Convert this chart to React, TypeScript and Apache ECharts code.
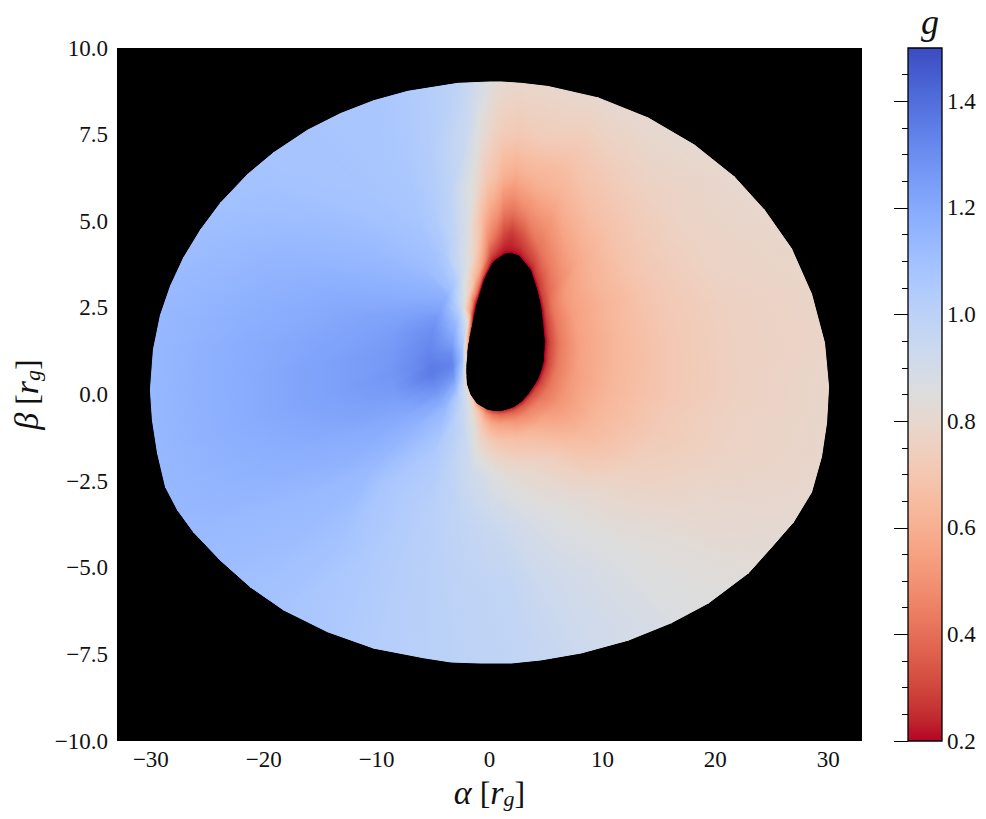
import React, { useEffect, useRef } from "react";
import * as echarts from "echarts";

// Image-plane extent and tick labels
const alphaTicks = [-30, -20, -10, 0, 10, 20, 30];
const betaTicks = [-10, -7.5, -5, -2.5, 0, 2.5, 5, 7.5, 10];
const gMajorTicks = [0.2, 0.4, 0.6, 0.8, 1.0, 1.2, 1.4];
const gMinorTicks = [0.25, 0.3, 0.35, 0.45, 0.5, 0.55, 0.65, 0.7, 0.75, 0.85, 0.9, 0.95, 1.05, 1.1, 1.15, 1.25, 1.3, 1.35, 1.45];
const gRange = [0.2, 1.5];

// Inner shadow outline and outer disc outline (alpha, beta), paired along rays
const holeAlpha = [4.97,4.94,4.92,4.88,4.88,4.78,4.65,4.38,4.02,3.54,2.87,2.15,1.57,0.94,0.33,-0.22,-1.13,-1.73,-2.05,-2.10,-2.11,-2.06,-2.02,-2.02,-1.98,-1.94,-1.86,-1.82,-1.75,-1.69,-1.62,-1.56,-1.48,-1.39,-1.30,-1.20,-0.99,-0.77,-0.51,0.24,0.61,1.05,1.34,1.90,2.66,3.71,4.22,4.51,4.68,4.74,4.81,4.85,4.91];
const holeBeta = [1.53,1.41,1.28,1.14,0.99,0.85,0.70,0.46,0.27,0.03,-0.22,-0.38,-0.45,-0.50,-0.49,-0.45,-0.28,-0.01,0.30,0.57,0.79,0.99,1.11,1.21,1.34,1.45,1.55,1.67,1.77,1.87,1.97,2.07,2.20,2.33,2.48,2.63,2.83,3.07,3.34,3.82,3.92,4.02,4.08,4.11,4.02,3.60,3.10,2.73,2.44,2.23,2.05,1.87,1.69];
const edgeAlpha = [30.04,29.86,29.41,28.53,26.93,24.98,22.94,19.39,16.10,12.29,8.12,4.57,1.91,-0.75,-3.42,-5.81,-10.25,-14.33,-18.23,-21.16,-23.82,-26.22,-27.64,-28.70,-29.41,-29.86,-30.04,-29.77,-29.15,-28.26,-27.11,-25.60,-23.82,-21.43,-19.12,-16.10,-13.18,-10.25,-7.23,-2.80,-1.38,0.13,1.02,2.80,5.19,9.63,14.06,18.15,21.69,24.36,26.75,28.53,29.68];
const edgeBeta = [0.22,-0.82,-1.80,-2.82,-3.68,-4.41,-5.15,-6.02,-6.59,-7.09,-7.46,-7.66,-7.75,-7.75,-7.72,-7.60,-7.32,-6.85,-6.22,-5.56,-4.79,-3.97,-3.33,-2.67,-1.69,-0.74,0.13,1.30,2.29,3.13,3.94,4.75,5.53,6.35,6.98,7.63,8.11,8.48,8.75,8.98,9.00,9.02,9.02,8.98,8.89,8.56,7.98,7.20,6.28,5.32,4.21,2.90,1.49];

// Where each g reading sits between the inner and outer outline
const ringFractions = [0, 0.015, 0.05, 0.12, 0.25, 0.45, 0.7, 1];

// g: one row per ray, one column per ring
const gOnRays = [
  [.20,.30,.43,.55,.63,.71,.76,.79],
  [.20,.30,.43,.55,.63,.71,.76,.79],
  [.20,.30,.43,.55,.63,.71,.77,.79],
  [.20,.30,.43,.54,.63,.72,.77,.80],
  [.20,.30,.43,.54,.63,.72,.78,.81],
  [.20,.30,.43,.53,.63,.73,.79,.82],
  [.20,.30,.42,.52,.63,.74,.80,.83],
  [.20,.30,.42,.52,.64,.77,.83,.85],
  [.20,.31,.42,.54,.67,.80,.85,.87],
  [.21,.32,.45,.58,.73,.83,.88,.90],
  [.22,.34,.47,.63,.78,.86,.91,.93],
  [.23,.36,.50,.66,.80,.89,.94,.96],
  [.25,.38,.53,.68,.82,.92,.97,.98],
  [.27,.40,.55,.70,.85,.94,.98,.99],
  [.30,.43,.58,.74,.89,.96,.99,1.0],
  [.35,.50,.65,.79,.92,.98,1.0,1.01],
  [.55,.72,.85,.95,.99,1.01,1.02,1.03],
  [.78,.88,.95,1.02,1.05,1.04,1.05,1.06],
  [.80,.93,1.05,1.13,1.11,1.07,1.09,1.08],
  [.80,1.0,1.18,1.21,1.16,1.13,1.12,1.10],
  [.80,1.06,1.27,1.28,1.20,1.17,1.13,1.12],
  [.78,1.08,1.32,1.33,1.23,1.19,1.16,1.13],
  [.75,1.10,1.33,1.36,1.25,1.21,1.17,1.14],
  [.70,1.10,1.32,1.36,1.26,1.22,1.18,1.14],
  [.65,1.08,1.30,1.34,1.27,1.23,1.19,1.14],
  [.60,1.05,1.27,1.33,1.26,1.23,1.19,1.14],
  [.55,1.02,1.24,1.32,1.26,1.23,1.19,1.14],
  [.50,.99,1.21,1.31,1.25,1.22,1.19,1.14],
  [.45,.95,1.18,1.30,1.24,1.21,1.18,1.14],
  [.40,.92,1.15,1.28,1.23,1.20,1.17,1.13],
  [.35,.88,1.12,1.26,1.21,1.19,1.16,1.12],
  [.30,.82,1.07,1.23,1.19,1.17,1.15,1.11],
  [.25,.70,1.00,1.20,1.17,1.15,1.13,1.10],
  [.20,.52,.92,1.17,1.15,1.13,1.11,1.09],
  [.20,.50,.86,1.10,1.12,1.11,1.09,1.08],
  [.20,.42,.80,1.04,1.10,1.09,1.08,1.08],
  [.20,.42,.72,.93,1.05,1.07,1.07,1.07],
  [.20,.40,.62,.85,.98,1.04,1.06,1.07],
  [.20,.36,.58,.76,.90,.99,1.03,1.05],
  [.20,.26,.34,.48,.63,.81,.93,.99],
  [.20,.24,.31,.42,.55,.71,.83,.92],
  [.20,.23,.27,.36,.50,.66,.76,.85],
  [.20,.22,.25,.31,.44,.61,.73,.81],
  [.20,.22,.24,.28,.42,.58,.71,.79],
  [.20,.23,.27,.33,.47,.61,.73,.79],
  [.20,.25,.31,.41,.50,.62,.71,.80],
  [.20,.27,.34,.44,.55,.66,.74,.81],
  [.20,.29,.38,.47,.58,.68,.76,.81],
  [.20,.30,.42,.53,.61,.70,.77,.80],
  [.20,.30,.43,.54,.62,.71,.77,.80],
  [.20,.30,.43,.54,.62,.71,.77,.79],
  [.20,.30,.43,.55,.63,.71,.76,.78],
  [.20,.30,.43,.55,.63,.71,.76,.78],
];

// coolwarm, from the top of the colour bar (g = 1.5) to the bottom (g = 0.2)
const coolwarm = ["#3b4cc0","#445acc","#4d68d7","#5775e1","#6282ea","#6c8ef1","#779af7","#82a5fb","#8db0fe","#98b9ff","#a3c2ff","#aec9fd","#b8d0f9","#c2d5f4","#ccd9ee","#d5dbe6","#dddddd","#e5d8d1","#ecd3c5","#f1ccb9","#f5c4ad","#f7bba0","#f7b194","#f7a687","#f49a7b","#f18d6f","#ec7f63","#e57058","#de604d","#d55042","#cb3e38","#c0282f","#b40426"];

const colourOf = (g: number) =>
  echarts.color.lerp(Math.min(1, Math.max(0, (gRange[1] - g) / (gRange[1] - gRange[0]))), coolwarm) as string;

const meshNode = (j: number, k: number) => {
  const t = ringFractions[k];
  return [
    holeAlpha[j] + (edgeAlpha[j] - holeAlpha[j]) * t,
    holeBeta[j] + (edgeBeta[j] - holeBeta[j]) * t,
    gOnRays[j][k],
  ];
};

// Each triangle: three (alpha, beta) corners, then the g read at those corners
const triangle = (p: number[], q: number[], r: number[]) => [p[0], p[1], q[0], q[1], r[0], r[1], p[2], q[2], r[2]];
const meshTriangles: number[][] = [];
gOnRays.forEach((_row, j) => {
  const n = (j + 1) % gOnRays.length;
  for (let k = 0; k < ringFractions.length - 1; k++) {
    const a = meshNode(j, k);
    const b = meshNode(n, k);
    const c = meshNode(n, k + 1);
    const d = meshNode(j, k + 1);
    if (Math.abs(a[2] - c[2]) <= Math.abs(b[2] - d[2])) {
      meshTriangles.push(triangle(a, b, c), triangle(a, c, d));
    } else {
      meshTriangles.push(triangle(a, b, d), triangle(b, c, d));
    }
  }
});

// Paint for a triangle so that its three corners get exactly their own colour
const trianglePaint = (pts: number[][], vals: number[]) => {
  const [x0, y0] = pts[0];
  const ax = pts[1][0] - x0, ay = pts[1][1] - y0, av = vals[1] - vals[0];
  const bx = pts[2][0] - x0, by = pts[2][1] - y0, bv = vals[2] - vals[0];
  const det = ax * by - ay * bx;
  const lo = Math.min(...vals);
  const hi = Math.max(...vals);
  if (Math.abs(det) < 1e-6 || hi - lo < 1e-4) return colourOf((lo + hi) / 2);
  const dx = (av * by - bv * ay) / det;
  const dy = (bv * ax - av * bx) / det;
  const len2 = dx * dx + dy * dy;
  const start = pts[vals.indexOf(lo)];
  const span = (hi - lo) / len2;
  const steps = hi - lo > 0.2 ? 8 : hi - lo > 0.05 ? 4 : 1;
  const stops = [];
  for (let i = 0; i <= steps; i++) {
    stops.push({ offset: i / steps, color: colourOf(lo + ((hi - lo) * i) / steps) });
  }
  return new echarts.graphic.LinearGradient(start[0], start[1], start[0] + dx * span, start[1] + dy * span, stops, true);
};

const meshLayer = (stroked: boolean, z: number) => ({
  type: "custom", xAxisIndex: 0, yAxisIndex: 0, silent: true, clip: true, z,
  data: meshTriangles,
  encode: { x: 0, y: 1 },
  renderItem: (_p: any, api: any) => {
    const pts = [0, 2, 4].map((i) => api.coord([api.value(i), api.value(i + 1)]));
    const paint = trianglePaint(pts, [api.value(6), api.value(7), api.value(8)]);
    return {
      type: "polygon",
      shape: { points: pts },
      style: stroked ? { fill: paint, stroke: paint, lineWidth: 1 } : { fill: paint },
    };
  },
});

const serif = "'Liberation Serif', 'DejaVu Serif', serif";
const tickText = { fontFamily: serif, fontSize: 23, color: "#111" };
const minus = (s: string) => s.replace("-", "\u2212");
const nameRich = {
  i: { fontFamily: serif, fontStyle: "italic" as const, fontSize: 34, color: "#111" },
  n: { fontFamily: serif, fontSize: 32, color: "#111" },
  s: { fontFamily: serif, fontStyle: "italic" as const, fontSize: 22, color: "#111", verticalAlign: "bottom" as const, padding: [10, 0, 0, 0] },
};

export default function App() {
  const ref = useRef<HTMLDivElement>(null);
  useEffect(() => {
    const chart = echarts.init(ref.current!, undefined, { renderer: "svg" });
    const hiddenX = (gridIndex: number) => ({
      gridIndex, type: "value" as const, min: 0, max: 1, show: false,
    });
    chart.setOption({
      animation: false,
      backgroundColor: "#fff",
      title: {
        text: "g", left: 925, top: -1, textAlign: "center",
        textStyle: { fontFamily: serif, fontStyle: "italic", fontWeight: "normal", fontSize: 36, color: "#111" },
      },
      grid: [
        { left: 117, top: 48, width: 745, height: 693, show: true, backgroundColor: "#000", borderWidth: 0, outerBoundsMode: "none" },
        { left: 908, top: 48, width: 34, height: 693, outerBoundsMode: "none" },
        { left: 908, top: 48, width: 34, height: 693, outerBoundsMode: "none" },
      ],
      xAxis: [
        {
          gridIndex: 0, type: "value", min: -33, max: 33,
          axisLine: { show: false, onZero: false }, axisTick: { show: false }, splitLine: { show: false },
          axisLabel: {
            ...tickText, margin: 7, customValues: alphaTicks,
            formatter: (v: number) => minus(String(v)),
          },
          name: "{i|\u03b1}{n|\u00a0[}{i|r}{s|g}{n|]}", nameLocation: "middle", nameGap: 26,
          nameTextStyle: { rich: nameRich },
        },
        hiddenX(1),
        hiddenX(2),
      ],
      yAxis: [
        {
          gridIndex: 0, type: "value", min: -10, max: 10,
          axisLine: { show: false, onZero: false }, axisTick: { show: false }, splitLine: { show: false },
          axisLabel: {
            ...tickText, margin: 9, customValues: betaTicks,
            formatter: (v: number) => minus(v.toFixed(1)),
          },
          name: "{i|\u03b2}{n|\u00a0[}{i|r}{s|g}{n|]}", nameLocation: "middle", nameGap: 64, nameRotate: 90,
          nameTextStyle: { rich: nameRich },
        },
        {
          gridIndex: 1, type: "value", position: "right", min: gRange[0], max: gRange[1], z: 10,
          axisLine: { show: false }, splitLine: { show: false },
          axisTick: { show: true, inside: true, length: 14, lineStyle: { color: "#000", width: 1 }, customValues: gMajorTicks },
          axisLabel: { ...tickText, margin: 5, customValues: gMajorTicks, formatter: (v: number) => v.toFixed(1) },
        },
        {
          gridIndex: 2, type: "value", position: "right", min: gRange[0], max: gRange[1], z: 10,
          axisLine: { show: false }, splitLine: { show: false },
          axisTick: { show: true, inside: true, length: 6, lineStyle: { color: "#000", width: 1 }, customValues: gMinorTicks },
          axisLabel: { show: false },
        },
      ],
      series: [
        meshLayer(true, 2),
        meshLayer(false, 3),
        {
          type: "custom", xAxisIndex: 1, yAxisIndex: 1, silent: true, z: 1,
          data: [[0, gRange[0], 1, gRange[1]]],
          renderItem: (_p: any, api: any) => {
            const a = api.coord([api.value(0), api.value(1)]);
            const b = api.coord([api.value(2), api.value(3)]);
            return {
              type: "rect",
              shape: { x: a[0], y: b[1], width: b[0] - a[0], height: a[1] - b[1] },
              style: {
                fill: new echarts.graphic.LinearGradient(
                  0, 0, 0, 1,
                  coolwarm.map((color, i) => ({ offset: i / (coolwarm.length - 1), color })),
                ),
                stroke: "#000",
                lineWidth: 1.3,
              },
            };
          },
        },
      ],
    });
    return () => chart.dispose();
  }, []);
  return <div ref={ref} style={{ position: "absolute", left: 0, top: 0, width: 986, height: 819 }} />;
}
